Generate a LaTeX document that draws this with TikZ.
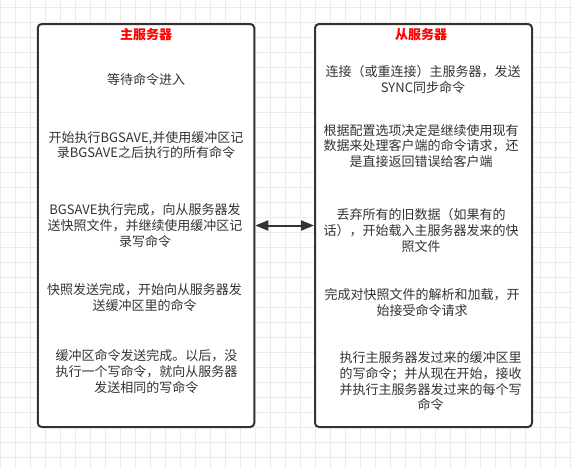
\documentclass[tikz,border=0pt]{standalone}
\usepackage{fontspec}
\newfontfamily\cjk{Noto Sans CJK SC}
\usetikzlibrary{arrows.meta}
\definecolor{gridc}{HTML}{EBEBEB}
\definecolor{edge}{HTML}{333333}
\definecolor{txt}{HTML}{333333}
\definecolor{ttl}{HTML}{FF0000}
\begin{document}
\begin{tikzpicture}[x=1pt,y=-1pt,
  box/.style={draw=edge, line width=2pt, rounded corners=4pt, fill=white, inner sep=0pt},
  ttlstyle/.style={text=ttl, font=\cjk\bfseries\fontsize{13}{15}\selectfont, inner sep=0pt},
  body/.style={text=txt, font=\cjk\fontsize{13}{15.7}\selectfont, align=center, inner sep=0pt},
  link/.style={draw=edge, line width=2pt, {Triangle[length=13pt,width=10pt]}-{Triangle[length=13pt,width=10pt]}}
]
\useasboundingbox (0,0) rectangle (573,469);
\fill[white] (0,0) rectangle (573,469);
% background grid
\foreach \k in {0,...,38} {
  \draw[gridc, line width=1pt] (0.7+15*\k,0) -- (0.7+15*\k,469);
}
\foreach \k in {0,...,31} {
  \draw[gridc, line width=1pt] (0,7.3+15*\k) -- (573,7.3+15*\k);
}
% boxes
\node[box, minimum width=216.5pt, minimum height=403pt] (master) at (146,225.5) {};
\node[box, minimum width=217pt, minimum height=403pt] (slave) at (423.5,225.5) {};
% titles
\node[ttlstyle] (mt) at (146,35) {主服务器};
\node[ttlstyle] (st) at (421,35) {从服务器};
% master steps
\node[body] (m1) at (146,80) {等待命令进入};
\node[body] (m2) at (146,145) {开始执行BGSAVE,并使用缓冲区记\\录BGSAVE之后执行的所有命令};
\node[body] (m3) at (145,225.5) {BGSAVE执行完成，向从服务器发\\送快照文件，并继续使用缓冲区记\\录写命令};
\node[body] (m4) at (144.5,297.5) {快照发送完成，开始向从服务器发\\送缓冲区里的命令};
\node[body] (m5) at (146.5,371.5) {缓冲区命令发送完成。以后，没\\执行一个写命令，就向从服务器\\发送相同的写命令};
% slave steps
\node[body] (s1) at (423,79.5) {连接（或重连接）主服务器，发送\\SYNC同步命令};
\node[body] (s2) at (421,145.8) {根据配置选项决定是继续使用现有\\数据来处理客户端的命令请求，还\\是直接返回错误给客户端};
\node[body] (s3) at (421,230.5) {丢弃所有的旧数据（如果有的\\话），开始载入主服务器发来的快\\照文件};
\node[body] (s4) at (422,302.5) {完成对快照文件的解析和加载，开\\始接受命令请求};
\node[body] (s5) at (430.5,381.5) {执行主服务器发过来的缓冲区里\\的写命令；并从现在开始，接收\\并执行主服务器发过来的每个写\\命令};
% link
\draw[link] (master.east) -- (slave.west);
\end{tikzpicture}
\end{document}
